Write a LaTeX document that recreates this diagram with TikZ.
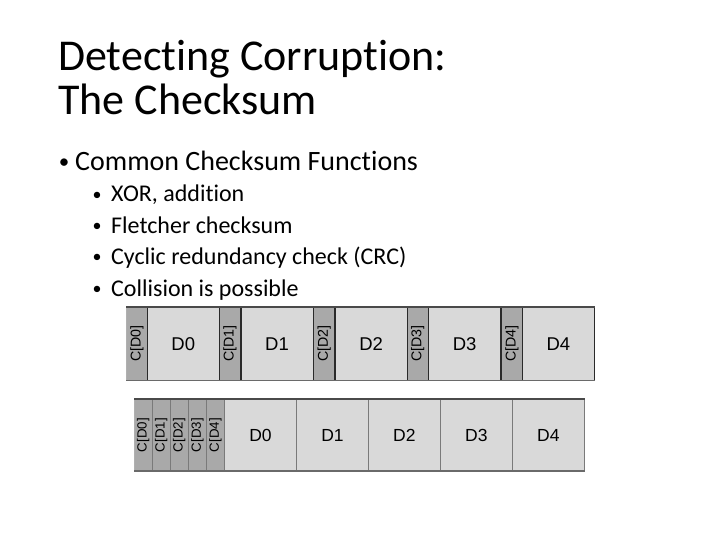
\documentclass[tikz,border=0pt]{standalone}
\usepackage{fontspec}
\setmainfont{Carlito}[Ligatures=NoCommon]
\newfontfamily\diagfont{Liberation Sans}
\definecolor{cgray}{HTML}{A9A9A9}
\definecolor{dgray}{HTML}{D9D9D9}
\definecolor{edgeA}{HTML}{2A2A2A}
\definecolor{edgeB}{HTML}{7A7A7A}
\definecolor{edgeL}{HTML}{B0B0B0}
\definecolor{topline}{HTML}{4A4A4A}
\definecolor{botline}{HTML}{6A6A6A}
\begin{document}
\begin{tikzpicture}[x=1pt,y=-1pt,
  slidetext/.style={anchor=base west,inner sep=0pt,text=black},
  bulletA/.style={anchor=center,inner sep=0pt,text=black,font=\fontsize{21}{22}\selectfont},
  bulletB/.style={anchor=center,inner sep=0pt,text=black,font=\fontsize{18}{19}\selectfont},
  cellA/.style={draw=edgeA,line width=0.7pt,inner sep=0pt,minimum height=72.5pt,font=\diagfont\fontsize{18.5}{20}\selectfont},
  cellB/.style={draw=edgeB,line width=0.6pt,inner sep=0pt,minimum height=71.4pt,font=\diagfont\fontsize{17.5}{19}\selectfont},
  csumA/.style={cellA,fill=cgray,minimum width=21.2pt,font=\diagfont\fontsize{14.2}{16}\selectfont},
  dataA/.style={cellA,fill=dgray,minimum width=72.2pt},
  csumB/.style={cellB,fill=cgray,minimum width=18pt,font=\diagfont\fontsize{13.3}{15}\selectfont},
  dataB/.style={cellB,fill=dgray,minimum width=72pt}]
\useasboundingbox (0,0) rectangle (720,540);
% title
\node[slidetext,font=\fontsize{44}{48}\selectfont] (t1) at (58,71) {Detecting Corruption:};
\node[slidetext,font=\fontsize{44}{48}\selectfont] (t2) at (58,115) {The Checksum};
% bullets
\node[bulletA] (b0) at (64,164) {•};
\node[slidetext,font=\fontsize{28}{30}\selectfont] (l0) at (75,171) {Common Checksum Functions};
\foreach \i/\y/\t in {1/202/{XOR, addition},2/233.3/{Fletcher checksum},3/264.7/{Cyclic redundancy check (CRC)},4/296/{Collision is possible}}{
  \node[bulletB] (b\i) at (97,\y-6) {•};
  \node[slidetext,font=\fontsize{24}{26}\selectfont] (l\i) at (111,\y) {\t};
}
% diagram 1
\node[csumA] (c0) at (137.0,343.8) {\rotatebox{90}{C[D0]}};
\node[dataA] (d0) at (183.3,343.8) {D0};
\node[csumA] (c1) at (230.0,343.8) {\rotatebox{90}{C[D1]}};
\node[dataA] (d1) at (277.0,343.8) {D1};
\node[csumA] (c2) at (324.2,343.8) {\rotatebox{90}{C[D2]}};
\node[dataA] (d2) at (371.2,343.8) {D2};
\node[csumA] (c3) at (417.8,343.8) {\rotatebox{90}{C[D3]}};
\node[dataA] (d3) at (464.7,343.8) {D3};
\node[csumA] (c4) at (511.9,343.8) {\rotatebox{90}{C[D4]}};
\node[dataA] (d4) at (558.4,343.8) {D4};
\draw[edgeL,line width=0.8pt] (c0.north west) -- (c0.south west);
\draw[topline,line width=1.6pt] (c0.north west) -- (d4.north east);
\draw[botline,line width=1.3pt] (c0.south west) -- (d4.south east);
% diagram 2
\node[csumB] (e0) at (143.3,435) {\rotatebox{90}{C[D0]}};
\node[csumB] (e1) at (161.3,435) {\rotatebox{90}{C[D1]}};
\node[csumB] (e2) at (179.3,435) {\rotatebox{90}{C[D2]}};
\node[csumB] (e3) at (197.4,435) {\rotatebox{90}{C[D3]}};
\node[csumB] (e4) at (215.5,435) {\rotatebox{90}{C[D4]}};
\node[dataB] (f0) at (260.5,435) {D0};
\node[dataB] (f1) at (332.5,435) {D1};
\node[dataB] (f2) at (404.3,435) {D2};
\node[dataB] (f3) at (476.3,435) {D3};
\node[dataB] (f4) at (548.3,435) {D4};
\draw[edgeL,line width=0.8pt] (e0.north west) -- (e0.south west);
\draw[topline,line width=1.6pt] (e0.north west) -- (f4.north east);
\draw[botline,line width=1.3pt] (e0.south west) -- (f4.south east);
\end{tikzpicture}
\end{document}
